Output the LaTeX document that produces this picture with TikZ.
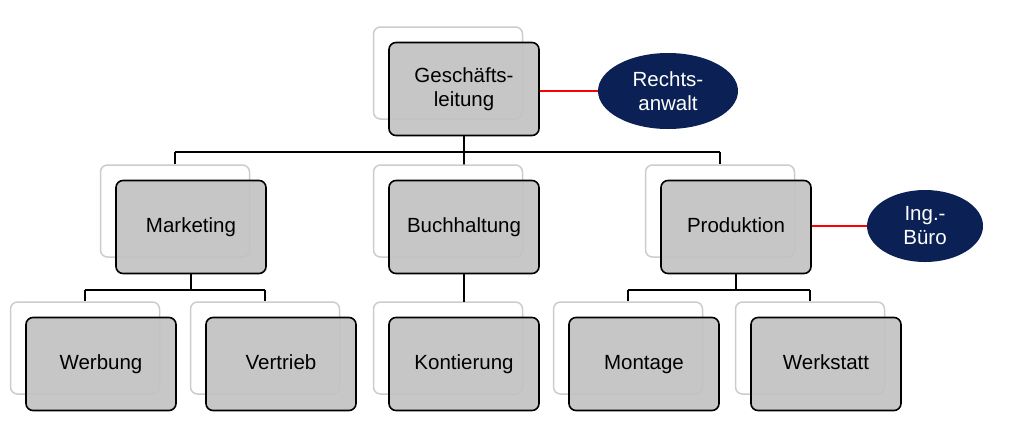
\documentclass[tikz,border=0pt]{standalone}
\usepackage{fontspec}
\setmainfont{Liberation Sans}
\usetikzlibrary{shapes.geometric}
\definecolor{navy}{HTML}{0B2155}
\begin{document}
\begin{tikzpicture}[x=1pt,y=-1pt,
  back/.style={draw=black!20,line width=1.5pt,fill=white,rounded corners=7pt,minimum width=149pt,minimum height=92pt,inner sep=0},
  front/.style={draw=black,line width=1.6pt,fill=black!24,fill opacity=0.92,text opacity=1,rounded corners=7pt,minimum width=150pt,minimum height=93pt,align=center,font=\fontsize{20.5}{24}\selectfont,inner sep=0,text height=14pt,text depth=4pt},
  ell/.style={ellipse,fill=navy,text=white,minimum width=140pt,minimum height=76pt,align=center,font=\fontsize{20.5}{24}\selectfont,inner sep=0},
  conn/.style={line width=2.6pt,black},
  redline/.style={line width=2pt,draw=red}]
\useasboundingbox (0,0) rectangle (1024,432);
\coordinate (g1) at (464,152);
\coordinate (m1) at (191,290);
\coordinate (p1) at (736,290);
\coordinate (b1) at (464,166);
\draw[conn] (464,136) -- (b1);
\node[back] (gb) at (448,73) {};
\foreach \n/\x/\y in {mb/175/211,bb/448/211,pb/720/211,wb/85/348,vb/265/348,kb/448/348,mob/628/348,wkb/810/348}
  \node[back] (\n) at (\x,\y) {};
\draw[conn] (mb.north |- g1) -- (pb.north |- g1);
\draw[conn] (mb.north |- g1) -- (mb.north);
\draw[conn] (pb.north |- g1) -- (pb.north);
\draw[conn] (191,273) -- (m1);
\draw[conn] (wb.north |- m1) -- (vb.north |- m1);
\draw[conn] (wb.north |- m1) -- (wb.north);
\draw[conn] (vb.north |- m1) -- (vb.north);
\draw[conn] (464,273) -- (464,302);
\draw[conn] (736,273) -- (p1);
\draw[conn] (mob.north |- p1) -- (wkb.north |- p1);
\draw[conn] (mob.north |- p1) -- (mob.north);
\draw[conn] (wkb.north |- p1) -- (wkb.north);
\node[front,text height=,text depth=] (g) at (464,89) {Geschäfts-\\leitung};
\node[front] (m) at (191,227) {Marketing};
\node[front] (b) at (464,227) {Buchhaltung};
\node[front] (p) at (736,227) {Produktion};
\node[front] (w) at (101,364) {Werbung};
\node[front] (v) at (281,364) {Vertrieb};
\node[front] (k) at (464,364) {Kontierung};
\node[front] (mo) at (644,364) {Montage};
\node[front] (wk) at (826,364) {Werkstatt};
\node[ell] (r) at (668,91) {Rechts-\\anwalt};
\node[ell,minimum width=116pt,minimum height=72pt] (i) at (925,226) {Ing.-\\Büro};
\draw[redline] (g.east |- r.west) -- (r.west);
\draw[redline] (p.east |- i.west) -- (i.west);
\end{tikzpicture}
\end{document}
